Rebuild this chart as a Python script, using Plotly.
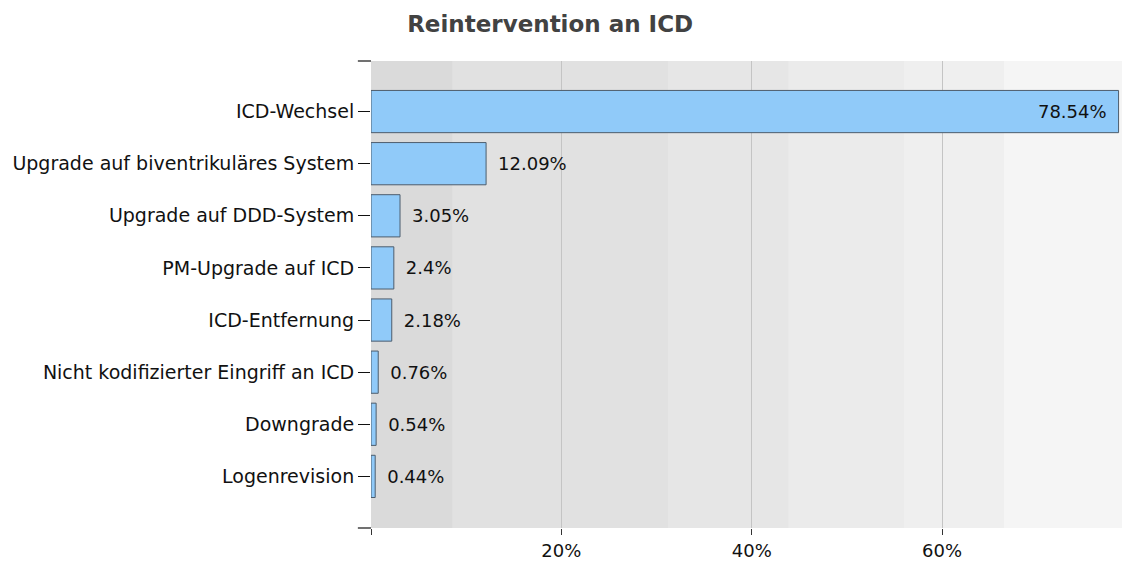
import plotly.graph_objects as go

categories = [
    "ICD-Wechsel",
    "Upgrade auf biventrikuläres System",
    "Upgrade auf DDD-System",
    "PM-Upgrade auf ICD",
    "ICD-Entfernung",
    "Nicht kodifizierter Eingriff an ICD",
    "Downgrade",
    "Logenrevision",
]
values = [78.54, 12.09, 3.05, 2.4, 2.18, 0.76, 0.54, 0.44]
labels = ["78.54%", "12.09%", "3.05%", "2.4%", "2.18%", "0.76%", "0.54%", "0.44%"]

# background bands (percent edges) and their greys
band_edges = [0, 8.6, 31.2, 43.9, 56.0, 66.5, 78.9]
band_colors = ["#dadada", "#e1e1e1", "#e6e6e6", "#ebebeb", "#efefef", "#f5f5f5"]

tick_vals = [0, 20, 40, 60]
tick_text = ["", "20%", "40%", "60%"]

FONT = "DejaVu Sans, Verdana, sans-serif"

fig = go.Figure()

# first label sits inside the bar, the others outside; en spaces give the padding
positions = ["inside"] + ["outside"] * (len(values) - 1)
templates = ["%{text}\u2002"] + ["\u2002%{text}"] * (len(values) - 1)

fig.add_trace(go.Bar(
    x=values,
    y=categories,
    orientation="h",
    width=0.81,
    marker=dict(color="#90caf9", line=dict(color="#4d5d6d", width=1)),
    text=labels,
    texttemplate=templates,
    textposition=positions,
    insidetextanchor="end",
    textfont=dict(size=18, color="#111111"),
    cliponaxis=False,
    hoverinfo="skip",
))

for i in range(len(band_colors)):
    fig.add_shape(
        type="rect", xref="x", yref="paper",
        x0=band_edges[i], x1=band_edges[i + 1], y0=0, y1=1,
        fillcolor=band_colors[i], line_width=0, layer="below",
    )

# end ticks of the category axis (top and bottom)
for yy in (0, 1):
    fig.add_shape(
        type="line", xref="paper", yref="paper",
        x0=-0.0175, x1=0, y0=yy, y1=yy,
        line=dict(color="#111111", width=1.2),
    )

fig.update_layout(
    width=1132,
    height=561,
    margin=dict(l=371, r=10, t=61, b=33),
    paper_bgcolor="white",
    plot_bgcolor="white",
    showlegend=False,
    font=dict(family=FONT, size=18, color="#111111"),
    title=dict(
        text="<b>Reintervention an ICD</b>",
        x=0.486, xanchor="center", y=0.957, yanchor="middle",
        font=dict(family=FONT, size=23, color="#424242"),
    ),
    xaxis=dict(
        range=[0, 78.9],
        tickvals=tick_vals,
        ticktext=tick_text,
        ticks="outside",
        ticklen=6,
        tickcolor="#333333",
        showgrid=True,
        gridcolor="#c4c4c4",
        gridwidth=1,
        zeroline=False,
        showline=False,
        automargin=False,
        tickfont=dict(size=18, color="#111111"),
    ),
    yaxis=dict(
        range=[7.99, -0.97],
        ticks="outside",
        ticklen=12,
        tickcolor="#111111",
        showgrid=False,
        zeroline=False,
        showline=False,
        automargin=False,
        tickfont=dict(size=19, color="#111111"),
    ),
)

# drop the browser's default 8px body margin so the figure fills the window
fig.write_html(
    "out.html",
    config={"displayModeBar": False},
    post_script="document.body.style.margin='0';document.body.style.overflow='hidden';",
)
